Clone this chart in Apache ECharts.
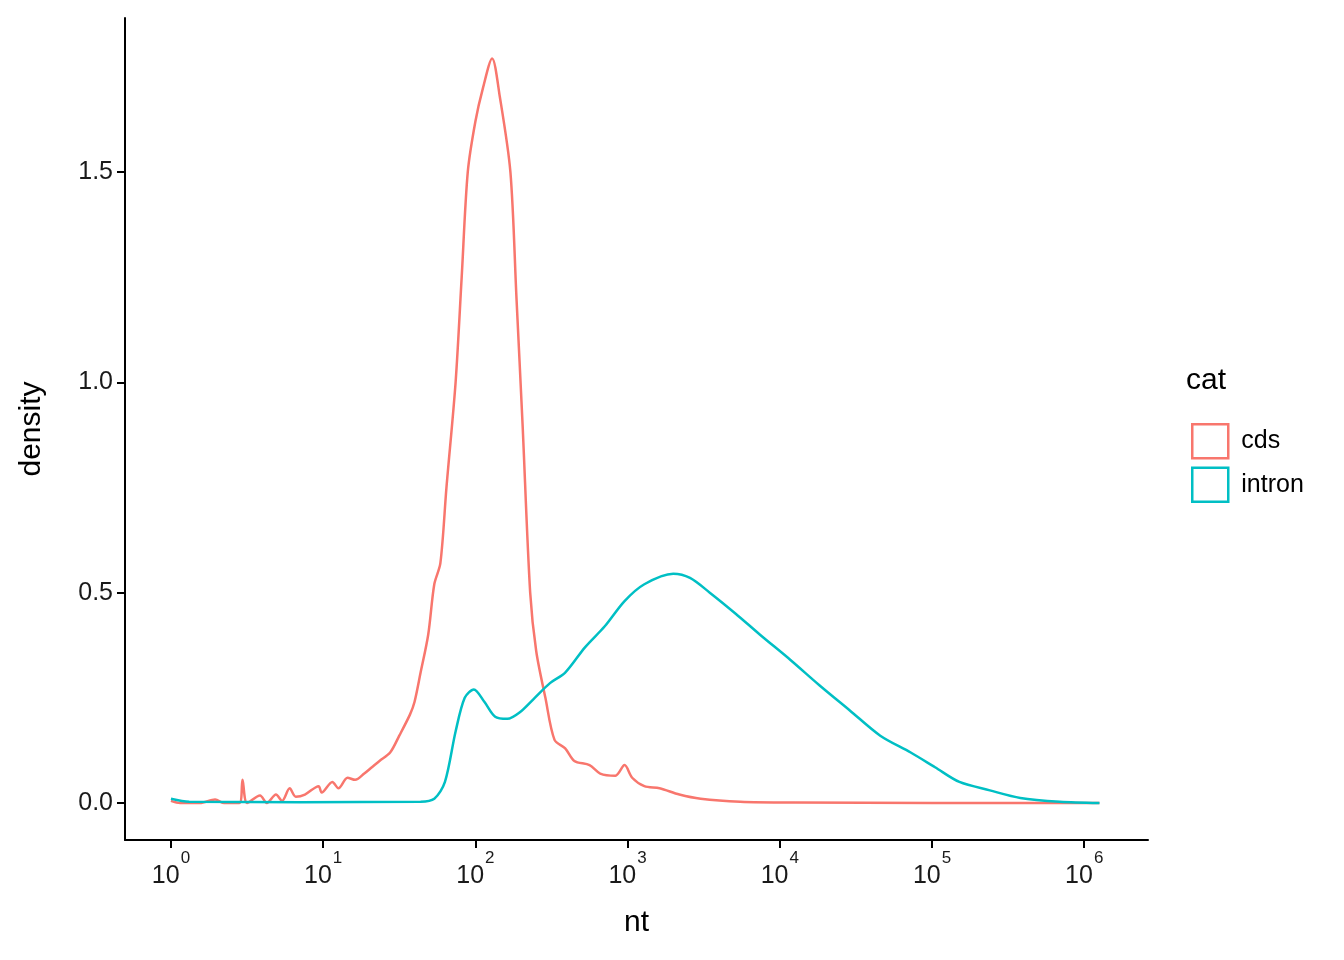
<!DOCTYPE html>
<html style="height: 100%">
<head>
    <meta charset="utf-8" />
    <script src="https://cdn.jsdelivr.net/npm/echarts@6/dist/echarts.min.js"></script>
</head>
<body style="height: 100%; margin: 0; overflow: hidden; background: #fff">
    <div id="container" style="width: 1344px; height: 960px"></div>
    <script>
        // x values are log10(nt)
        var cdsX = [0, 0.06, 0.19, 0.29, 0.35, 0.45, 0.47, 0.5, 0.585, 0.63, 0.69, 0.73, 0.78, 0.82, 0.88, 0.97, 0.99, 1.06, 1.1, 1.16, 1.21, 1.27, 1.32, 1.37, 1.44, 1.5, 1.57, 1.6, 1.64, 1.69, 1.73, 1.77, 1.81, 1.87, 1.91, 1.95, 2.0, 2.05, 2.11, 2.16, 2.23, 2.27, 2.31, 2.36, 2.4, 2.46, 2.52, 2.59, 2.65, 2.75, 2.82, 2.92, 2.98, 3.03, 3.11, 3.21, 3.34, 3.48, 3.74, 4.1, 5.0, 6.1];
        var cdsY = [0.005, 0.0, 0.0, 0.008, 0.0, 0.0, 0.055, 0.0, 0.018, 0.0, 0.02, 0.005, 0.035, 0.015, 0.02, 0.04, 0.025, 0.05, 0.035, 0.06, 0.055, 0.07, 0.085, 0.1, 0.12, 0.16, 0.21, 0.24, 0.31, 0.4, 0.52, 0.57, 0.75, 1.0, 1.25, 1.5, 1.62, 1.70, 1.77, 1.68, 1.5, 1.2, 0.9, 0.5, 0.36, 0.25, 0.15, 0.13, 0.1, 0.09, 0.07, 0.065, 0.09, 0.06, 0.04, 0.035, 0.02, 0.01, 0.003, 0.001, 0, 0];
        var intronX = [0, 0.12, 0.85, 1.64, 1.73, 1.8, 1.87, 1.93, 1.99, 2.06, 2.13, 2.21, 2.29, 2.39, 2.49, 2.59, 2.72, 2.85, 2.98, 3.11, 3.3, 3.41, 3.54, 3.71, 3.87, 4.07, 4.26, 4.46, 4.66, 4.86, 5.02, 5.18, 5.38, 5.58, 5.84, 6.1];
        var intronY = [0.01, 0.003, 0.002, 0.003, 0.01, 0.05, 0.17, 0.25, 0.27, 0.24, 0.205, 0.2, 0.215, 0.25, 0.285, 0.31, 0.37, 0.42, 0.48, 0.52, 0.545, 0.535, 0.5, 0.45, 0.4, 0.34, 0.28, 0.22, 0.16, 0.12, 0.085, 0.05, 0.03, 0.012, 0.003, 0];
        var xTicks = [0, 1, 2, 3, 4, 5, 6];
        var yTicks = [0, 0.5, 1.0, 1.5];

        function pairs(xs, ys) { return xs.map(function (x, i) { return [x, ys[i]]; }); }

        var chart = echarts.init(document.getElementById('container'));
        chart.setOption({
            animation: false,
            textStyle: { fontFamily: 'Liberation Sans, Arial, sans-serif' },
            grid: { left: 125, right: 196, top: 18, bottom: 120 },
            xAxis: {
                type: 'value', min: -0.302, max: 6.419,
                name: 'nt', nameLocation: 'middle', nameGap: 68,
                nameTextStyle: { fontSize: 30, color: '#000' },
                axisLine: { onZero: false, lineStyle: { color: '#000', width: 2 } },
                axisTick: { show: true, customValues: xTicks, length: 8, lineStyle: { color: '#000', width: 2 } },
                splitLine: { show: false },
                axisLabel: {
                    customValues: xTicks,
                    formatter: function (v) { return '{b|10}{s|' + Math.round(v) + '}'; },
                    color: '#1a1a1a', margin: 10,
                    rich: {
                        b: { fontSize: 25, color: '#1a1a1a', verticalAlign: 'bottom', padding: [14, 0, 0, 0] },
                        s: { fontSize: 17, color: '#1a1a1a', verticalAlign: 'top', padding: [0, 0, 14, 1] }
                    }
                }
            },
            yAxis: {
                type: 'value', min: -0.088, max: 1.866,
                name: 'density', nameLocation: 'middle', nameGap: 78,
                nameTextStyle: { fontSize: 30, color: '#000' },
                axisLine: { show: true, onZero: false, lineStyle: { color: '#000', width: 2 } },
                axisTick: { show: true, customValues: yTicks, length: 8, lineStyle: { color: '#000', width: 2 } },
                splitLine: { show: false },
                axisLabel: {
                    customValues: yTicks,
                    formatter: function (v) { return v.toFixed(1); },
                    fontSize: 25, color: '#1a1a1a', margin: 12
                }
            },
            legend: {
                orient: 'vertical', left: 1186, top: 418,
                itemWidth: 36, itemHeight: 34, itemGap: 7, icon: 'rect',
                textStyle: { fontSize: 25, color: '#000', padding: [0, 0, 0, 8] },
                data: [
                    { name: 'cds', itemStyle: { color: '#fff', borderColor: '#F8766D', borderWidth: 2.5 } },
                    { name: 'intron', itemStyle: { color: '#fff', borderColor: '#00BFC4', borderWidth: 2.5 } }
                ]
            },
            graphic: [{ type: 'text', left: 1186, top: 366, style: { text: 'cat', fontSize: 30, fill: '#000', fontFamily: 'Liberation Sans, Arial' } }],
            series: [
                { name: 'cds', type: 'line', smooth: 0.3, showSymbol: false, data: pairs(cdsX, cdsY), lineStyle: { color: '#F8766D', width: 2.5 }, itemStyle: { color: '#F8766D' } },
                { name: 'intron', type: 'line', smooth: 0.3, showSymbol: false, data: pairs(intronX, intronY), lineStyle: { color: '#00BFC4', width: 2.5 }, itemStyle: { color: '#00BFC4' } }
            ]
        });
    </script>
</body>
</html>
